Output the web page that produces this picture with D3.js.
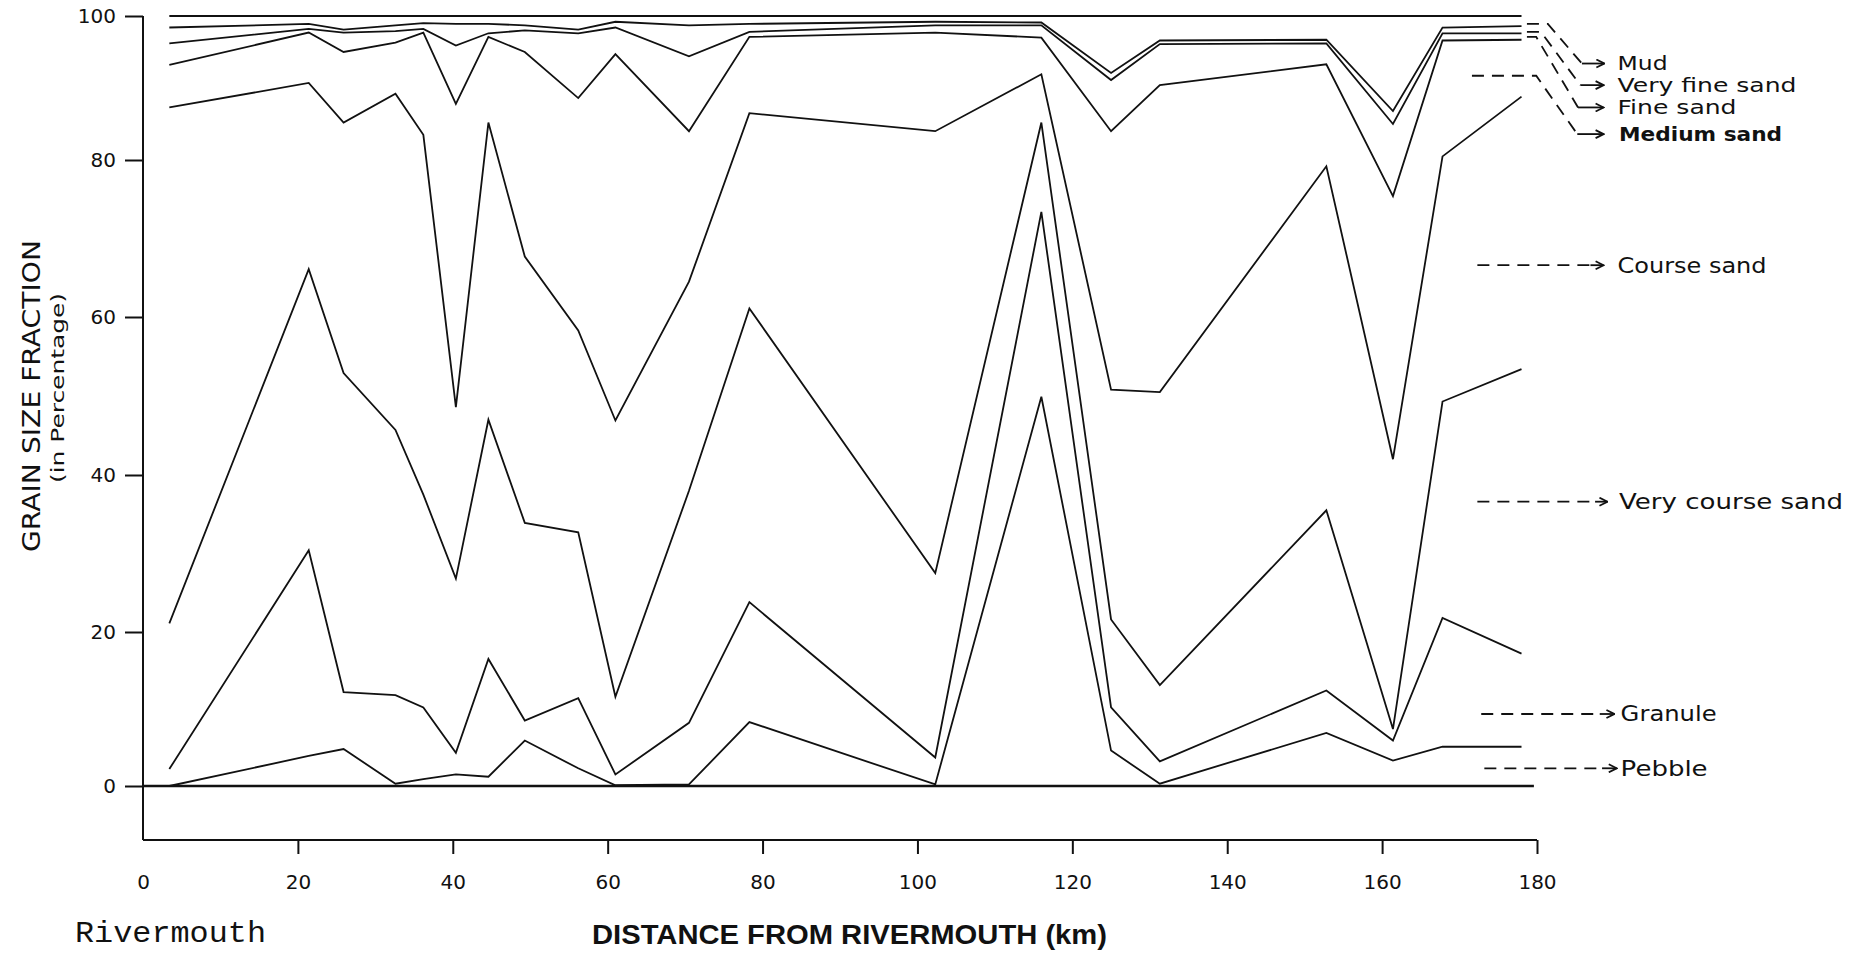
<!DOCTYPE html>
<html><head><meta charset="utf-8">
<script src="https://cdn.jsdelivr.net/npm/d3@7"></script>
<style>
html,body{margin:0;padding:0;background:#fff;}
svg{display:block;}
</style></head><body>
<svg id="chart" width="1856" height="955"></svg>
<script>
// ---------- DATA (cumulative percentages) ----------
const stationsKm   = [3.4, 21.4, 25.9, 32.6, 36.2, 40.4, 44.6, 49.3, 56.2, 61.0, 70.5, 78.3, 102.3, 116.0, 125.0, 131.3, 152.8, 161.4, 167.8, 178.0];
const pebbleTop    = [0, 3.9, 4.8, 0.3, 0.9, 1.5, 1.2, 5.9, 2.3, 0.1, 0.2, 8.3, 0.2, 49.9, 4.6, 0.3, 6.9, 3.3, 5.1, 5.1];
const granuleTop   = [2.2, 30.4, 12.2, 11.8, 10.2, 4.3, 16.5, 8.5, 11.4, 1.5, 8.2, 23.8, 3.7, 73.4, 10.2, 3.2, 12.4, 5.9, 21.8, 17.2];
const vCoarseTop   = [21.1, 66.1, 52.9, 45.7, 37.5, 26.8, 47.0, 33.9, 32.7, 11.6, 38.0, 61.1, 27.5, 85.2, 21.6, 13.1, 35.5, 7.4, 49.3, 53.4];
const coarseTop    = [87.3, 90.7, 85.2, 89.2, 83.5, 48.6, 85.2, 67.7, 58.3, 46.9, 64.5, 86.5, 84.0, 91.9, 50.8, 50.5, 79.2, 42.0, 80.5, 88.8];
const mediumTop    = [93.2, 97.7, 95.0, 96.3, 97.7, 87.8, 97.1, 95.0, 88.6, 94.7, 84.0, 97.1, 97.7, 97.0, 84.0, 90.4, 93.3, 75.4, 96.6, 96.7];
const fineTop      = [96.2, 98.2, 97.7, 97.9, 98.2, 95.9, 97.6, 98.0, 97.6, 98.4, 94.4, 97.8, 98.7, 98.7, 91.1, 96.1, 96.2, 85.0, 97.6, 97.6];
const vFineTop     = [98.4, 98.9, 98.1, 98.7, 99.0, 98.9, 98.9, 98.7, 98.1, 99.2, 98.7, 98.9, 99.2, 99.1, 92.1, 96.6, 96.7, 86.8, 98.4, 98.6];
const mudTop       = [100, 100, 100, 100, 100, 100, 100, 100, 100, 100, 100, 100, 100, 100, 100, 100, 100, 100, 100, 100];

const xTicks = [0, 20, 40, 60, 80, 100, 120, 140, 160, 180];
const yTicks = [0, 20, 40, 60, 80, 100];
const xTickLabels = ["0", "20", "40", "60", "80", "100", "120", "140", "160", "180"];

const legendNames = ["Mud", "Very fine sand", "Fine sand", "Medium sand", "Course sand", "Very course sand", "Granule", "Pebble"];

// ---------- LAYOUT ----------
const svg = d3.select("#chart");
const x = d3.scaleLinear().domain([0, 180]).range([143, 1537]);
// the printed axis is slightly uneven; ticks are placed where the figure has them
const y = d3.scaleLinear().domain([0, 20, 40, 60, 80, 100]).range([786, 632, 475, 317, 160, 16]);
const axisBottomY = 840;
const ink = "#111";

// y axis
const gy = svg.append("g").attr("transform", `translate(${x(0)},0)`)
  .call(d3.axisLeft(y).tickValues(yTicks).tickSize(18).tickPadding(9).tickFormat(d3.format("d")));
gy.select(".domain").remove();
gy.selectAll(".tick line").attr("stroke", ink).attr("stroke-width", 2);
gy.selectAll(".tick text").attr("font-family", "DejaVu Sans").attr("font-size", 20).attr("fill", ink);
svg.append("line").attr("x1", x(0)).attr("x2", x(0)).attr("y1", y(100)).attr("y2", axisBottomY)
  .attr("stroke", ink).attr("stroke-width", 2);

// x axis
const gx = svg.append("g").attr("transform", `translate(0,${axisBottomY})`)
  .call(d3.axisBottom(x).tickValues(xTicks).tickSize(14).tickFormat((d, i) => xTickLabels[i]));
gx.select(".domain").remove();
gx.selectAll(".tick line").attr("stroke", ink).attr("stroke-width", 2).attr("display", d => d === 0 ? "none" : null);
gx.selectAll(".tick text").attr("font-family", "DejaVu Sans").attr("font-size", 20).attr("fill", ink)
  .attr("y", 42).attr("dy", "0.35em");
svg.append("line").attr("x1", x(0)).attr("x2", x(180)).attr("y1", axisBottomY).attr("y2", axisBottomY)
  .attr("stroke", ink).attr("stroke-width", 2);

// zero reference line
svg.append("line").attr("x1", x(0)).attr("x2", x(179.6)).attr("y1", y(0)).attr("y2", y(0))
  .attr("stroke", ink).attr("stroke-width", 2.6);

// cumulative curves
const series = [pebbleTop, granuleTop, vCoarseTop, coarseTop, mediumTop, fineTop, vFineTop, mudTop];
const lineGen = d3.line().x((d, i) => x(stationsKm[i])).y(d => y(d));
svg.append("g").selectAll("path").data(series).join("path")
  .attr("d", d => lineGen(d))
  .attr("fill", "none").attr("stroke", ink)
  .attr("stroke-width", (d, i) => i === 7 ? 2.2 : 1.8)
  .attr("stroke-linejoin", "miter");

// legend leaders (in km / percent units) and labels
const leaderDash = [[178.7, 98.9, 181.4, 98.9, 185.8, 93.4], [178.7, 97.8, 180.5, 97.8, 185.6, 90.4],
                    [178.7, 97.1, 179.9, 97.1, 185.3, 87.3], [171.6, 91.7, 179.9, 91.7, 185.2, 83.6],
                    [172.3, 66.6, 186.9, 66.6], [172.3, 36.6, 187.5, 36.6],
                    [172.8, 9.35, 188.1, 9.35], [173.2, 2.3, 188.4, 2.3]];
const arrowEnd = [188.7, 188.6, 188.6, 188.6, 188.6, 189.1, 190.0, 190.3];
const labelX = [190.4, 190.4, 190.4, 190.6, 190.4, 190.6, 190.8, 190.8];
const labelW = [50, 179, 119, 163, 149, 224, 96, 87];

const defs = svg.append("defs");
defs.append("marker").attr("id", "arr").attr("viewBox", "0 0 10 10").attr("refX", 9).attr("refY", 5)
  .attr("markerWidth", 10).attr("markerHeight", 10).attr("markerUnits", "userSpaceOnUse").attr("orient", "auto")
  .append("path").attr("d", "M1,1 L9,5 L1,9").attr("fill", "none").attr("stroke", ink).attr("stroke-width", 1.8);

const lg = svg.append("g");
leaderDash.forEach((p, i) => {
  const pts = [];
  for (let k = 0; k < p.length; k += 2) pts.push([x(p[k]), y(p[k + 1])]);
  lg.append("path").attr("d", d3.line()(pts)).attr("fill", "none").attr("stroke", ink)
    .attr("stroke-width", 1.8).attr("stroke-dasharray", "12,8");
  const last = pts[pts.length - 1];
  lg.append("line").attr("x1", last[0]).attr("y1", last[1]).attr("x2", x(arrowEnd[i])).attr("y2", last[1])
    .attr("stroke", ink).attr("stroke-width", 1.8).attr("marker-end", "url(#arr)");
  lg.append("text").attr("x", x(labelX[i])).attr("y", last[1]).attr("dy", "0.35em")
    .attr("font-family", "DejaVu Sans").attr("font-size", i < 4 ? 19 : 21)
    .attr("font-weight", i === 3 ? "bold" : "normal")
    .attr("textLength", labelW[i]).attr("lengthAdjust", "spacingAndGlyphs")
    .attr("fill", ink).text(legendNames[i]);
});

// axis titles
svg.append("text").attr("transform", "translate(31,396) rotate(-90)")
  .attr("text-anchor", "middle").attr("dy", "0.35em")
  .attr("font-family", "DejaVu Sans").attr("font-size", 25)
  .attr("textLength", 312).attr("lengthAdjust", "spacingAndGlyphs").attr("fill", ink)
  .text("GRAIN SIZE FRACTION");
svg.append("text").attr("transform", "translate(58,388) rotate(-90)")
  .attr("text-anchor", "middle").attr("dy", "0.35em")
  .attr("font-family", "DejaVu Sans").attr("font-size", 18)
  .attr("textLength", 190).attr("lengthAdjust", "spacingAndGlyphs").attr("fill", ink)
  .text("(in Percentage)");
svg.append("text").attr("x", 75).attr("y", 931).attr("dy", "0.35em")
  .attr("font-family", "Liberation Mono").attr("font-size", 30)
  .attr("textLength", 191).attr("lengthAdjust", "spacingAndGlyphs").attr("fill", ink)
  .text("Rivermouth");
svg.append("text").attr("x", 592).attr("y", 935).attr("dy", "0.35em")
  .attr("font-family", "Liberation Sans").attr("font-weight", "bold").attr("font-size", 27)
  .attr("textLength", 515).attr("lengthAdjust", "spacingAndGlyphs").attr("fill", ink)
  .text("DISTANCE FROM RIVERMOUTH (km)");
</script>
</body></html>
